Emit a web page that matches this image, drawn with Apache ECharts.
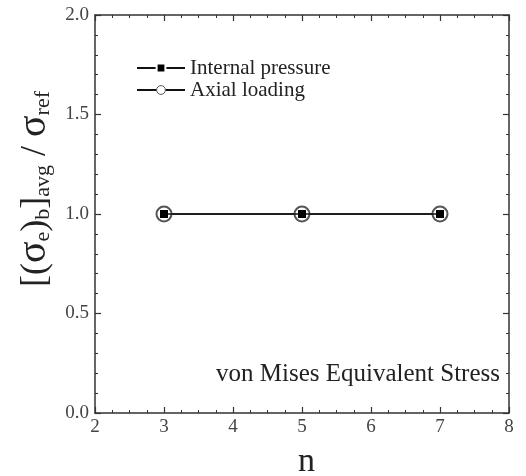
<!DOCTYPE html>
<html>
<head>
<meta charset="utf-8">
<script src="https://cdn.jsdelivr.net/npm/echarts@6/dist/echarts.min.js"></script>
<style>html,body{margin:0;padding:0;background:#fff}#c{width:526px;height:476px}</style>
</head>
<body>
<div id="c"></div>
<script>
// n values and normalised average equivalent stress for the two load cases
const nValues = [3, 5, 7];
const internalPressure = [1.0, 1.0, 1.0];
const axialLoading = [1.0, 1.0, 1.0];
const seriesNames = ['Internal pressure', 'Axial loading'];

const FONT = '"Liberation Serif", "Times New Roman", serif';
const AX = '#333';

const chart = echarts.init(document.getElementById('c'));

const baseX = {
  type: 'value', min: 2, max: 8, interval: 1,
  axisLine: { show: true, onZero: false, lineStyle: { color: AX, width: 1.5 } },
  axisTick: { show: true, inside: true, length: 6, lineStyle: { color: AX, width: 1.2 } },
  minorTick: { show: true, splitNumber: 4, length: 3, lineStyle: { color: AX, width: 1 } },
  splitLine: { show: false }
};
const baseY = {
  type: 'value', min: 0, max: 2, interval: 0.5,
  axisLine: { show: true, onZero: false, lineStyle: { color: AX, width: 1.5 } },
  axisTick: { show: true, inside: true, length: 6, lineStyle: { color: AX, width: 1.2 } },
  minorTick: { show: true, splitNumber: 5, length: 3, lineStyle: { color: AX, width: 1 } },
  splitLine: { show: false }
};

chart.setOption({
  animation: false,
  backgroundColor: '#fff',
  grid: { left: 95, right: 17, top: 15, bottom: 63 },
  xAxis: [
    Object.assign({}, baseX, {
      position: 'bottom',
      axisLabel: { color: '#444', fontFamily: FONT, fontSize: 19, margin: 5 }
    }),
    Object.assign({}, baseX, { position: 'top', axisLabel: { show: false } })
  ],
  yAxis: [
    Object.assign({}, baseY, {
      position: 'left',
      axisLabel: { color: '#444', fontFamily: FONT, fontSize: 19, margin: 6,
        formatter: v => v.toFixed(1) }
    }),
    Object.assign({}, baseY, { position: 'right', axisLabel: { show: false } })
  ],
  legend: {
    orient: 'vertical', left: 131, top: 52,
    itemWidth: 48, itemHeight: 11, itemGap: 0,
    textStyle: { fontFamily: FONT, fontSize: 21, color: '#222', lineHeight: 22 },
    data: [
      { name: seriesNames[0], itemStyle: { borderColor: '#fff', borderWidth: 2 } },
      { name: seriesNames[1], itemStyle: { borderColor: '#555', borderWidth: 1 } }
    ]
  },
  series: [
    {
      name: seriesNames[1], type: 'line', z: 2,
      data: nValues.map((n, i) => [n, axialLoading[i]]),
      symbol: 'circle', symbolSize: 15,
      itemStyle: { color: '#fff', borderColor: '#555', borderWidth: 2 },
      lineStyle: { color: '#111', width: 1.3 }
    },
    {
      name: seriesNames[0], type: 'line', z: 3,
      data: nValues.map((n, i) => [n, internalPressure[i]]),
      symbol: 'rect', symbolSize: 8,
      itemStyle: { color: '#000' },
      lineStyle: { color: '#111', width: 1.3 }
    }
  ],
  graphic: [
    {
      type: 'text', left: 298, top: 445,
      style: { text: 'n', font: '34px ' + FONT, fill: '#222' }
    },
    {
      type: 'text', right: 26, top: 362,
      style: { text: 'von Mises Equivalent Stress', font: '25px ' + FONT, fill: '#222' }
    },
    {
      type: 'text', x: 2, y: 287, rotation: Math.PI / 2,
      style: {
        text: '{b|[(}{g|σ}{s|e}{b|)}{s|b}{b|]}{s|avg}{b| / }{g|σ}{s|ref}',
        fill: '#222',
        rich: {
          b: { fontFamily: FONT, fontSize: 36, fill: '#222', verticalAlign: 'bottom', lineHeight: 50 },
          g: { fontFamily: FONT, fontSize: 40, fill: '#222', verticalAlign: 'bottom', lineHeight: 52 },
          s: { fontFamily: FONT, fontSize: 22, fill: '#222', verticalAlign: 'bottom', lineHeight: 40 }
        }
      }
    }
  ]
});
</script>
</body>
</html>
